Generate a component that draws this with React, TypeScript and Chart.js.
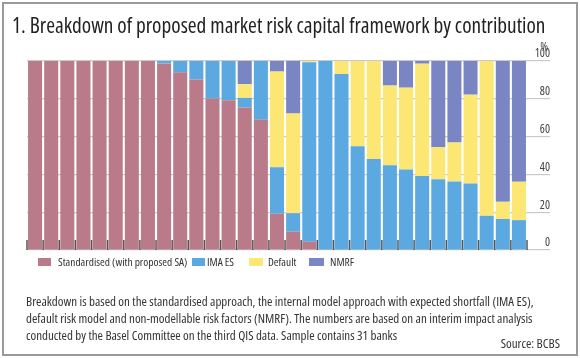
import React, { useEffect, useRef } from "react";
import { Chart, registerables } from "chart.js";
Chart.register(...registerables);

const banks = ["1","2","3","4","5","6","7","8","9","10","11","12","13","14","15","16","17","18","19","20","21","22","23","24","25","26","27","28","29","30","31"];
const standardised = [100,100,100,100,100,100,100,100,98.6,94,90.2,80.1,79.2,75.4,69,19.2,9.7,4.4,0,0,0,0,0,0,0,0,0,0,0,0,0];
const imaES = [0,0,0,0,0,0,0,0,1.4,6,9.8,19.9,20.8,5.1,31,24.6,9.8,94.9,100,93.1,54.9,48.1,44.9,42.6,39.1,37.5,36.3,35.2,18.1,16.4,15.8];
const defaultRisk = [0,0,0,0,0,0,0,0,0,0,0,0,0,7.2,0,50.6,52.7,0.7,0,6.9,45.1,51.9,42.1,43.3,59.5,16.9,20.6,47,81.9,9.1,20.3];
const nmrf = [0,0,0,0,0,0,0,0,0,0,0,0,0,12.3,0,5.6,27.8,0,0,0,0,0,13,14.1,1.4,45.6,43.1,17.8,0,74.5,63.9];
const yTicks = [0, 20, 40, 60, 80, 100];

const seriesNames = ["Standardised (with proposed SA)", "IMA ES", "Default", "NMRF"];
const seriesColors = ["#b97b8a", "#5ba9e0", "#fde774", "#7a86c3"];

const FONT = '"Open Sans", "DejaVu Sans", sans-serif';

const tickMarks = {
  id: "tickMarks",
  afterDatasetsDraw(chart: any) {
    const x = chart.scales.x;
    const area = chart.chartArea;
    const ctx = chart.ctx;
    ctx.save();
    ctx.strokeStyle = "#555";
    ctx.lineWidth = 1.5;
    for (let i = 0; i <= banks.length; i++) {
      const px = x.getPixelForValue(i - 0.5);
      ctx.beginPath();
      ctx.moveTo(px, area.bottom);
      ctx.lineTo(px, area.bottom - 10);
      ctx.stroke();
    }
    ctx.restore();
  },
};

export default function App() {
  const ref = useRef<HTMLCanvasElement>(null);
  useEffect(() => {
    const c = document.createElement("canvas").getContext("2d")!;
    c.font = `400 condensed 12px ${FONT}`;
    const widest = c.measureText("100").width;
    const chart = new Chart(ref.current!, {
      type: "bar",
      data: {
        labels: banks,
        datasets: [standardised, imaES, defaultRisk, nmrf].map((d, i) => ({
          label: seriesNames[i],
          data: d,
          backgroundColor: seriesColors[i],
          borderWidth: 0,
          barPercentage: 0.87,
          categoryPercentage: 1,
        })),
      },
      options: {
        animation: false,
        responsive: false,
        maintainAspectRatio: false,
        layout: { padding: { left: 27, top: 61, right: 30, bottom: 108 } },
        plugins: { legend: { display: false }, tooltip: { enabled: false } },
        scales: {
          x: { display: false, stacked: true, offset: true },
          y: {
            position: "right",
            stacked: true,
            min: 0,
            max: 100,
            afterFit: (s: any) => { s.width = 23; },
            afterBuildTicks: (s: any) => { s.ticks = yTicks.map((v) => ({ value: v })); },
            ticks: {
              font: { family: FONT, size: 12, weight: "400 condensed" as any },
              color: "#444",
              crossAlign: "far",
              padding: -(3 + widest),
              labelOffset: -7,
            },
            grid: { color: "#cacaca", lineWidth: 1.2, tickLength: 23, tickColor: "#cacaca" },
            border: { display: false },
          },
        },
      },
      plugins: [tickMarks],
    });
    return () => chart.destroy();
  }, []);

  const txt: React.CSSProperties = { position: "absolute", fontFamily: FONT, color: "#333", whiteSpace: "nowrap", fontStretch: "condensed" };
  const legendSquares = [
    { l: 38, w: 13, t: 58 },
    { l: 192, w: 13, t: 207 },
    { l: 249, w: 14, t: 268 },
    { l: 309, w: 15, t: 330 },
  ];
  return (
    <div style={{ position: "fixed", left: 0, top: 0, width: 580, height: 358, background: "#fff", overflow: "hidden" }}>
      <canvas ref={ref} width={580} height={358} style={{ position: "absolute", left: 0, top: 0, width: 580, height: 358 }} />
      <div style={{ position: "absolute", left: 2, top: 2, width: 576, height: 354, border: "2px solid #9a9a9a", boxSizing: "border-box" }} />
      <div style={{ ...txt, left: 12, top: 11, fontSize: 21.3, lineHeight: "27px", color: "#222", fontStretch: "semi-condensed" }}>
        1. Breakdown of proposed market risk capital framework by contribution
      </div>
      <div style={{ ...txt, right: 32, top: 39, fontSize: 12, lineHeight: "16px", color: "#444" }}>%</div>
      {legendSquares.map((s, i) => (
        <React.Fragment key={i}>
          <div style={{ position: "absolute", left: s.l, top: 258, width: s.w, height: 8, background: seriesColors[i] }} />
          <div style={{ ...txt, left: s.t, top: 254, fontSize: 11.4, lineHeight: "16px" }}>{seriesNames[i]}</div>
        </React.Fragment>
      ))}
      <div style={{ ...txt, left: 26, top: 293, fontSize: 13, lineHeight: "17px" }}>
        Breakdown is based on the standardised approach, the internal model approach with expected shortfall (IMA ES),<br />
        default risk model and non-modellable risk factors (NMRF). The numbers are based on an interim impact analysis<br />
        conducted by the Basel Committee on the third QIS data. Sample contains 31 banks
      </div>
      <div style={{ ...txt, right: 20, top: 335, fontSize: 13, lineHeight: "17px" }}>Source: BCBS</div>
    </div>
  );
}
